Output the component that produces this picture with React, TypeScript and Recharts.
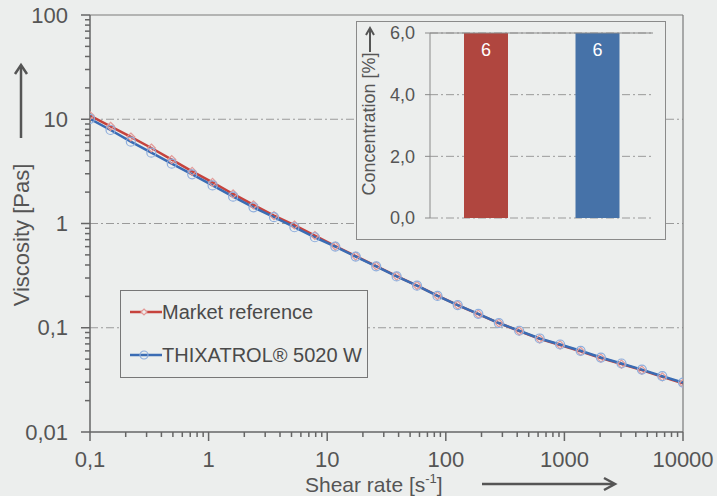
import React from "react";
import {
  ComposedChart,
  BarChart,
  Bar,
  Cell,
  Line,
  XAxis,
  YAxis,
  ReferenceLine,
  CartesianGrid,
  Legend,
  LabelList,
} from "recharts";

// shear rate [1/s], log spaced measuring points
const shearRate = [
  0.1, 0.149, 0.221, 0.329, 0.489, 0.727, 1.08, 1.61, 2.39, 3.56, 5.29, 7.87,
  11.7, 17.4, 25.9, 38.5, 57.2, 85.1, 126, 188, 280, 416, 619, 920, 1370, 2030,
  3030, 4500, 6690, 10000,
];
// viscosity [Pas]
const marketReference = [
  10.85, 8.56, 6.76, 5.3, 4.1, 3.16, 2.48, 1.92, 1.51, 1.19, 0.967, 0.767,
  0.608, 0.487, 0.391, 0.313, 0.254, 0.203, 0.165, 0.135, 0.111, 0.093, 0.0783,
  0.0684, 0.0594, 0.0512, 0.0448, 0.0392, 0.0338, 0.0293,
];
const thixatrol = [
  10.1, 7.89, 6.1, 4.78, 3.75, 2.96, 2.32, 1.81, 1.43, 1.15, 0.921, 0.738,
  0.601, 0.482, 0.388, 0.311, 0.253, 0.202, 0.165, 0.136, 0.111, 0.0936,
  0.0789, 0.0691, 0.0601, 0.0518, 0.0454, 0.0397, 0.0343, 0.0298,
];

const products = ["Market reference", "THIXATROL® 5020 W"];
const concentration = [6, 6];

const xMajor = [0.1, 1, 10, 100, 1000, 10000];
const yMajor = [0.01, 0.1, 1, 10, 100];
const minorSteps = [2, 3, 4, 5, 6, 7, 8, 9];
const gridLevels = [10, 1, 0.1];
const concTicks = [0, 2, 4, 6];

const bg = "#eceeed";
const axisColor = "#666";
const textColor = "#555";
const red = "#c6433d";
const blue = "#3a6cb4";
const font = "'Liberation Sans', Arial, sans-serif";

const withMinor = (majors: number[]) =>
  majors.flatMap((m, i) =>
    i < majors.length - 1
      ? [m, ...minorSteps.map((s) => +(m * s).toPrecision(3))]
      : [m]
  );

const xTicks = withMinor(xMajor);
const yTicks = withMinor(yMajor);

const data = shearRate.map((rate, i) => ({
  rate,
  market: marketReference[i],
  thix: thixatrol[i],
}));
const barData = products.map((name, i) => ({ name, value: concentration[i] }));

const comma = (v: number) => String(v).replace(".", ",");

const YTick = (props: any) => {
  const { x, y, payload } = props;
  const major = yMajor.includes(payload.value);
  return (
    <g>
      <line x1={x - (major ? 9 : 5)} x2={x} y1={y} y2={y} stroke={axisColor} strokeWidth={1.5} />
      {major && (
        <text x={x - 22} y={y} dy="0.35em" textAnchor="end" fontSize={22} fill={textColor} fontFamily={font}>
          {comma(payload.value)}
        </text>
      )}
    </g>
  );
};

const XTick = (props: any) => {
  const { x, y, payload } = props;
  const major = xMajor.includes(payload.value);
  return (
    <g>
      <line x1={x} x2={x} y1={y} y2={y + (major ? 9 : 5)} stroke={axisColor} strokeWidth={1.5} />
      {major && (
        <text x={x} y={y + 35} textAnchor="middle" fontSize={22} fill={textColor} fontFamily={font}>
          {comma(payload.value)}
        </text>
      )}
    </g>
  );
};

const XLabel = () => (
  <g>
    <text x={305} y={492} fontSize={21} fill={textColor} fontFamily={font}>
      Shear rate [s
      <tspan fontSize={13} dy={-9}>-1</tspan>
      <tspan dy={9}>]</tspan>
    </text>
    <line x1={482} y1={484} x2={613} y2={484} stroke={textColor} strokeWidth={2.5} />
    <path d="M604,478 L615,484 L604,490" fill="none" stroke={textColor} strokeWidth={2.5} />
  </g>
);

const YLabel = () => (
  <g>
    <text x={29} y={235} transform="rotate(-90 29 235)" textAnchor="middle" fontSize={22} fill={textColor} fontFamily={font}>
      Viscosity [Pas]
    </text>
    <line x1={21} y1={138} x2={21} y2={67} stroke={textColor} strokeWidth={2.5} />
    <path d="M15,74 L21,65 L27,74" fill="none" stroke={textColor} strokeWidth={2.5} />
  </g>
);

const ConcLabel = () => (
  <g>
    <text x={18} y={102} transform="rotate(-90 18 102)" textAnchor="middle" fontSize={18} fill={textColor} fontFamily={font}>
      Concentration [%]
    </text>
    <line x1={13} y1={30} x2={13} y2={8} stroke={textColor} strokeWidth={2} />
    <path d="M9,13 L13,6 L17,13" fill="none" stroke={textColor} strokeWidth={2} />
  </g>
);

const redDot = (props: any) => {
  const { cx, cy, index } = props;
  return (
    <path key={`r${index}`} d={`M${cx},${cy - 4} L${cx + 4},${cy} L${cx},${cy + 4} L${cx - 4},${cy} Z`} fill="none" stroke="#e39a98" strokeWidth={1.2} />
  );
};

const blueDot = (props: any) => {
  const { cx, cy, index } = props;
  return <circle key={`b${index}`} cx={cx} cy={cy} r={4.5} fill="none" stroke="#8eaedd" strokeWidth={1.2} />;
};

const LegendBox = () => (
  <div style={{ width: 248, height: 88, border: "1px solid #777", background: bg, boxSizing: "border-box", fontFamily: font }}>
    {products.map((name, i) => (
      <div key={name} style={{ position: "absolute", left: 10, top: i === 0 ? 10 : 53, height: 24, display: "flex", alignItems: "center" }}>
        <svg width={32} height={12}>
          <line x1={0} x2={32} y1={6} y2={6} stroke={i === 0 ? red : blue} strokeWidth={2.5} />
          {i === 0 ? (
            <path d="M14,3 L17,6 L14,9 L11,6 Z" fill={bg} stroke="#e39a98" strokeWidth={1.2} />
          ) : (
            <circle cx={14} cy={6} r={4} fill="none" stroke="#8eaedd" strokeWidth={1.2} />
          )}
        </svg>
        <span style={{ fontSize: 20, color: "#4a4a4a" }}>{name}</span>
      </div>
    ))}
  </div>
);

export default function App() {
  return (
    <div style={{ position: "absolute", left: 0, top: 0, width: 717, height: 496, background: bg, overflow: "hidden" }}>
      <ComposedChart width={717} height={496} data={data} margin={{ top: 15, right: 34, bottom: 0, left: 0 }}>
        <XAxis
          dataKey="rate"
          type="number"
          scale="log"
          domain={[0.1, 10000]}
          allowDataOverflow
          ticks={xTicks}
          interval={0}
          tickSize={0}
          tickMargin={0}
          tickLine={false}
          tick={<XTick />}
          axisLine={{ stroke: axisColor, strokeWidth: 1.5 }}
          height={64}
          label={XLabel}
        />
        <YAxis
          type="number"
          scale="log"
          domain={[0.01, 100]}
          allowDataOverflow
          ticks={yTicks}
          interval={0}
          tickSize={0}
          tickMargin={0}
          tickLine={false}
          tick={<YTick />}
          axisLine={{ stroke: axisColor, strokeWidth: 1.5 }}
          width={90}
          label={YLabel}
        />
        {gridLevels.map((v) => (
          <ReferenceLine key={v} y={v} stroke="#9a9a9a" strokeDasharray="8 3 2 3" />
        ))}
        <ReferenceLine y={100} stroke="#7a7a7a" strokeWidth={1.2} />
        <ReferenceLine x={10000} stroke="#7a7a7a" strokeWidth={1.2} />
        <Line dataKey="market" type="linear" stroke={red} strokeWidth={2.5} dot={redDot} isAnimationActive={false} />
        <Line dataKey="thix" type="linear" stroke={blue} strokeWidth={2.5} dot={blueDot} isAnimationActive={false} />
        <Legend
          layout="vertical"
          align="center"
          verticalAlign="middle"
          content={LegendBox}
          wrapperStyle={{ left: 120, top: 290, width: 248, height: 88 }}
        />
      </ComposedChart>

      <div style={{ position: "absolute", left: 356, top: 21, width: 310, height: 219, border: "1px solid #8a8a8a", boxSizing: "border-box", background: bg }}>
        <BarChart width={308} height={217} data={barData} margin={{ top: 11, right: 12, bottom: 21, left: 0 }} barSize={44}>
          <CartesianGrid vertical={false} stroke="#9a9a9a" strokeDasharray="8 3 2 3" />
          <XAxis dataKey="name" tick={false} tickLine={false} height={0} axisLine={{ stroke: "#8a8a8a" }} />
          <YAxis
            domain={[0, 6]}
            ticks={concTicks}
            interval={0}
            width={73}
            tickSize={5}
            tickMargin={10}
            tickLine={{ stroke: "#8a8a8a" }}
            axisLine={{ stroke: "#8a8a8a" }}
            tickFormatter={(v: number) => v.toFixed(1).replace(".", ",")}
            tick={{ fontSize: 18, fill: textColor, fontFamily: font }}
            label={ConcLabel}
          />
          <YAxis yAxisId="r" orientation="right" width={0} tick={false} tickLine={false} axisLine={{ stroke: "#8a8a8a" }} />
          <ReferenceLine y={6} stroke="#8a8a8a" />
          <Bar dataKey="value" isAnimationActive={false}>
            {barData.map((d, i) => (
              <Cell key={d.name} fill={i === 0 ? "#b0463f" : "#4672a8"} />
            ))}
            <LabelList dataKey="value" position="insideTop" offset={10} fill="#fff" fontSize={18} fontFamily={font} />
          </Bar>
        </BarChart>
      </div>
    </div>
  );
}
